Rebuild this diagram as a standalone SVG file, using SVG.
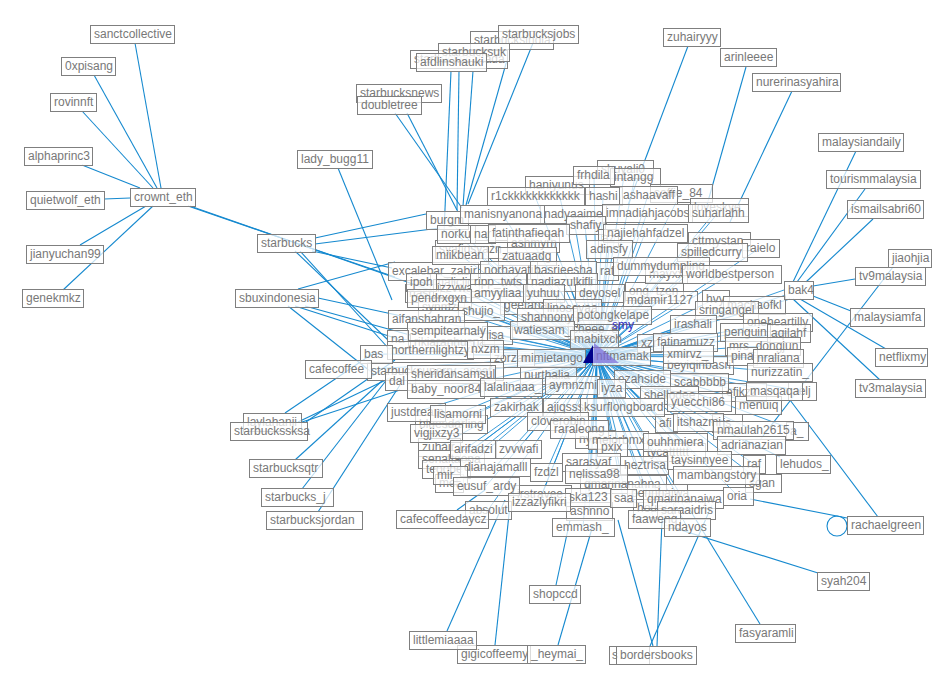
<svg xmlns="http://www.w3.org/2000/svg" width="950" height="688" viewBox="0 0 950 688">
<style>
.n rect{fill:#fff;fill-opacity:.72;stroke:#7f7f7f;stroke-width:1}
.n text{font-family:"Liberation Sans",Arial,sans-serif;font-size:12px;fill:#787878}
.e line{stroke:#1589cf;stroke-width:1.1}
.r{stroke:#1a8cd4;stroke-width:1;fill:none;stroke-opacity:.85}
</style>
<rect width="950" height="688" fill="#fff"/>
<g id="connectors">
<path class="r" d="M597 356L625 169M597 356L635 177M597 356L557 185M597 356L681 193M597 356L719 207M597 356L719 241M597 356L471 249M597 356L533 243M597 356L527 256M597 356L433 271M597 356L454 282M597 356L422 293M597 356L441 307M597 356L456 288M597 356L528 305M597 356L654 291M597 356L666 274M597 356L593 329M597 356L452 342M597 356L497 335M597 356L512 358M597 356L698 365M597 356L435 371M597 356L548 375M597 356L400 381M597 356L744 392M597 356L758 405M597 356L802 391M597 356L451 424M597 356L727 423M597 356L439 447M597 356L451 459M597 356L446 469M597 356L595 439M597 356L674 452M597 356L449 483M597 356L763 483M597 356L542 494M597 356L623 484M597 356L657 493M597 356L653 508M597 356L589 511M597 356L666 423M597 356L797 431"/>
<path class="r" d="M597 356L594 175M597 356L535 196M597 356L603 196M597 356L648 195M597 356L573 214M597 356L502 214M597 356L647 213M597 356L718 213M597 356L447 220M597 356L456 234M597 356L482 234M597 356L528 233M597 356L585 225M597 356L608 238M597 356L645 233M597 356L712 252M597 356L760 248M597 356L460 255M597 356L609 249M597 356L508 270M597 356L563 270M597 356L607 271M597 356L661 266M597 356L731 274M597 356L421 282M597 356L498 282M597 356L562 282M597 356L497 293M597 356L543 293M597 356L599 293M597 356L439 298M597 356L660 300M597 356L715 299M597 356L754 305M597 356L726 310M597 356L481 311M597 356L572 308M597 356L426 319M597 356L547 317M597 356L612 315M597 356L693 324M597 356L777 322M597 356L447 331M597 356L397 339M597 356L542 330M597 356L745 332M597 356L788 333M597 356L594 339M597 356L649 343M597 356L685 342M597 356L762 346M597 356L430 350M597 356L485 349M597 356L376 354M597 356L551 358M597 356L688 354M597 356L742 356M597 356L778 358M597 356L779 372M597 356L451 374M597 356L642 379M597 356L699 382M597 356L445 389M597 356L511 387M597 356L572 385M597 356L611 388M597 356L774 391M597 356L669 395M597 356L699 402M597 356L416 412M597 356L516 407M597 356L565 407M597 356L622 407M597 356L457 414M597 356L557 421M597 356L698 422M597 356L753 430M597 356L579 429M597 356L436 433M597 356L618 440M597 356L675 442M597 356L751 445M597 356L612 447M597 356L473 449M597 356L518 449M597 356L591 462M597 356L644 465M597 356L699 460M597 356L754 464M597 356L495 467M597 356L450 475M597 356L546 472M597 356L596 474M597 356L716 475M597 356L486 486M597 356L588 497M597 356L623 498M597 356L683 499M597 356L738 496M597 356L488 510M597 356L539 502M597 356L686 510M597 356L654 519M597 356L687 527M597 356L583 527M597 356L370 369M597 356L784 290M597 356L786 295M597 356L790 299"/>
<g class="e">
<line x1="135" y1="43" x2="161" y2="188"/>
<line x1="94" y1="75" x2="157" y2="188"/>
<line x1="82" y1="111" x2="153" y2="188"/>
<line x1="82" y1="165" x2="140" y2="188"/>
<line x1="104" y1="199" x2="130" y2="198"/>
<line x1="80" y1="245" x2="146" y2="206"/>
<line x1="63" y1="290" x2="153" y2="206"/>
<line x1="188" y1="206" x2="395" y2="277"/>
<line x1="190" y1="206" x2="430" y2="290"/>
<line x1="315" y1="238" x2="426" y2="214"/>
<line x1="315" y1="244" x2="440" y2="228"/>
<line x1="295" y1="251" x2="388" y2="340"/>
<line x1="300" y1="251" x2="390" y2="350"/>
<line x1="312" y1="251" x2="392" y2="268"/>
<line x1="298" y1="289" x2="395" y2="262"/>
<line x1="288" y1="306" x2="375" y2="375"/>
<line x1="295" y1="306" x2="395" y2="338"/>
<line x1="305" y1="306" x2="410" y2="335"/>
<line x1="318" y1="298" x2="420" y2="320"/>
<line x1="285" y1="413" x2="375" y2="352"/>
<line x1="298" y1="422" x2="390" y2="378"/>
<line x1="302" y1="422" x2="400" y2="390"/>
<line x1="306" y1="422" x2="395" y2="360"/>
<line x1="295" y1="460" x2="383" y2="380"/>
<line x1="302" y1="489" x2="388" y2="378"/>
<line x1="318" y1="512" x2="400" y2="385"/>
<line x1="338" y1="168" x2="392" y2="300"/>
<line x1="395" y1="113" x2="462" y2="208"/>
<line x1="407" y1="113" x2="458" y2="212"/>
<line x1="451" y1="71" x2="444" y2="232"/>
<line x1="459" y1="71" x2="457" y2="210"/>
<line x1="473" y1="71" x2="463" y2="206"/>
<line x1="507" y1="60" x2="466" y2="205"/>
<line x1="533" y1="43" x2="468" y2="204"/>
<line x1="688" y1="46" x2="628" y2="205"/>
<line x1="746" y1="67" x2="705" y2="212"/>
<line x1="792" y1="91" x2="730" y2="222"/>
<line x1="856" y1="151" x2="793" y2="282"/>
<line x1="865" y1="189" x2="797" y2="282"/>
<line x1="873" y1="219" x2="806" y2="282"/>
<line x1="813" y1="286" x2="855" y2="279"/>
<line x1="813" y1="296" x2="851" y2="311"/>
<line x1="800" y1="299" x2="886" y2="349"/>
<line x1="793" y1="299" x2="880" y2="380"/>
<line x1="893" y1="267" x2="760" y2="440"/>
<line x1="790" y1="400" x2="878" y2="517"/>
<line x1="750" y1="499" x2="847" y2="518"/>
<line x1="780" y1="457" x2="745" y2="440"/>
<line x1="818" y1="573" x2="665" y2="525"/>
<line x1="760" y1="624" x2="690" y2="510"/>
<line x1="653" y1="646" x2="618" y2="520"/>
<line x1="650" y1="646" x2="712" y2="505"/>
<line x1="657" y1="646" x2="662" y2="520"/>
<line x1="556" y1="585" x2="570" y2="520"/>
<line x1="447" y1="631" x2="505" y2="500"/>
<line x1="495" y1="645" x2="510" y2="505"/>
<line x1="558" y1="645" x2="593" y2="525"/>
<line x1="457" y1="510" x2="485" y2="490"/>
<circle cx="837" cy="526" r="10" fill="none" stroke="#1589cf" stroke-width="1.1"/>
</g>
</g>
<g id="nodes-back">
<g id="n-shuyali0" class="n"><rect x="597.5" y="160.5" width="56" height="18"/><text x="601" y="173">shuyali0</text></g>
<g id="n-intangg" class="n"><rect x="610.5" y="168.5" width="50" height="18"/><text x="614" y="181">intangg</text></g>
<g id="n-haniyunus" class="n"><rect x="525.5" y="176.5" width="64" height="18"/><text x="529" y="189">haniyunus</text></g>
<g id="n-saffie_84" class="n"><rect x="650.5" y="184.5" width="62" height="18"/><text x="654" y="197">saffie_84</text></g>
<g id="n-loveskye" class="n"><rect x="690.5" y="198.5" width="58" height="18"/><text x="694" y="211">loveskye</text></g>
<g id="n-cttmystan" class="n"><rect x="688.5" y="232.5" width="62" height="18"/><text x="692" y="245">cttmystan</text></g>
<g id="n-syafiqsyazn" class="n"><rect x="435.5" y="240.5" width="72" height="18"/><text x="439" y="253">syafiqsyazn</text></g>
<g id="n-ashmyrn" class="n"><rect x="507.5" y="234.5" width="52" height="18"/><text x="511" y="247">ashmyrn</text></g>
<g id="n-zatuaadg" class="n"><rect x="498.5" y="247.5" width="58" height="18"/><text x="502" y="260">zatuaadg</text></g>
<g id="n-excalebar_zabir" class="n"><rect x="388.5" y="262.5" width="90" height="18"/><text x="392" y="275">excalebar_zabir</text></g>
<g id="n-maliclic" class="n"><rect x="430.5" y="273.5" width="48" height="18"/><text x="434" y="286">maliclic</text></g>
<g id="n-nasr" class="n"><rect x="405.5" y="284.5" width="35" height="18"/><text x="409" y="297">nasr</text></g>
<g id="n-synmzi" class="n"><rect x="418.5" y="298.5" width="46" height="18"/><text x="422" y="311">synmzi</text></g>
<g id="n-izzvwa" class="n"><rect x="433.5" y="279.5" width="46" height="18"/><text x="437" y="292">izzvwa</text></g>
<g id="n-geetanai" class="n"><rect x="500.5" y="296.5" width="56" height="18"/><text x="504" y="309">geetanai</text></g>
<g id="n-ong_tzen" class="n"><rect x="625.5" y="282.5" width="58" height="18"/><text x="629" y="295">ong_tzen</text></g>
<g id="n-mayxx" class="n"><rect x="645.5" y="265.5" width="42" height="18"/><text x="649" y="278">mayxx</text></g>
<g id="n-cheee_e" class="n"><rect x="568.5" y="320.5" width="50" height="18"/><text x="572" y="333">cheee_e</text></g>
<g id="n-rikiaranhusna" class="n"><rect x="410.5" y="333.5" width="84" height="18"/><text x="414" y="346">rikiaranhusna</text></g>
<g id="n-lisa" class="n"><rect x="482.5" y="326.5" width="30" height="18"/><text x="486" y="339">lisa</text></g>
<g id="n-zorzan" class="n"><rect x="490.5" y="349.5" width="44" height="18"/><text x="494" y="362">zorzan</text></g>
<g id="n-beyiqinbasri" class="n"><rect x="663.5" y="356.5" width="70" height="18"/><text x="667" y="369">beyiqinbasri</text></g>
<g id="n-starbucksuperry_assaf" class="n"><rect x="367.5" y="362.5" width="136" height="18"/><text x="371" y="375">starbucksuperry_assaf</text></g>
<g id="n-nurthalia" class="n"><rect x="520.5" y="366.5" width="56" height="18"/><text x="524" y="379">nurthalia</text></g>
<g id="n-dal" class="n"><rect x="385.5" y="372.5" width="30" height="18"/><text x="389" y="385">dal</text></g>
<g id="n-efikzz" class="n"><rect x="722.5" y="383.5" width="44" height="18"/><text x="726" y="396">efikzz</text></g>
<g id="n-menuiq" class="n"><rect x="735.5" y="396.5" width="46" height="18"/><text x="739" y="409">menuiq</text></g>
<g id="n-aelj" class="n"><rect x="788.5" y="382.5" width="28" height="18"/><text x="792" y="395">aelj</text></g>
<g id="n-bluesdarling" class="n"><rect x="415.5" y="415.5" width="72" height="18"/><text x="419" y="428">bluesdarling</text></g>
<g id="n-iris" class="n"><rect x="712.5" y="414.5" width="30" height="18"/><text x="716" y="427">iris</text></g>
<g id="n-zuhair" class="n"><rect x="418.5" y="438.5" width="42" height="18"/><text x="422" y="451">zuhair</text></g>
<g id="n-senaltaopa" class="n"><rect x="418.5" y="450.5" width="66" height="18"/><text x="422" y="463">senaltaopa</text></g>
<g id="n-teoobe" class="n"><rect x="422.5" y="460.5" width="48" height="18"/><text x="426" y="473">teoobe</text></g>
<g id="n-nyara" class="n"><rect x="575.5" y="430.5" width="40" height="18"/><text x="579" y="443">nyara</text></g>
<g id="n-tycatttttt" class="n"><rect x="643.5" y="443.5" width="62" height="18"/><text x="647" y="456">tycatttttt</text></g>
<g id="n-mel" class="n"><rect x="435.5" y="474.5" width="28" height="18"/><text x="439" y="487">mel</text></g>
<g id="n-sgan" class="n"><rect x="745.5" y="474.5" width="36" height="18"/><text x="749" y="487">sgan</text></g>
<g id="n-irstravee" class="n"><rect x="513.5" y="485.5" width="58" height="18"/><text x="517" y="498">irstravee</text></g>
<g id="n-qmarinanahna" class="n"><rect x="580.5" y="475.5" width="86" height="18"/><text x="584" y="488">qmarinanahna</text></g>
<g id="n-pennhaiwa" class="n"><rect x="627.5" y="484.5" width="60" height="18"/><text x="631" y="497">pennhaiwa</text></g>
<g id="n-houry" class="n"><rect x="633.5" y="499.5" width="40" height="18"/><text x="637" y="512">houry</text></g>
<g id="n-ashnno" class="n"><rect x="566.5" y="502.5" width="46" height="18"/><text x="570" y="515">ashnno</text></g>
<g id="n-afi" class="n"><rect x="655.5" y="414.5" width="22" height="18"/><text x="659" y="427">afi</text></g>
<g id="n-a_" class="n"><rect x="786.5" y="422.5" width="22" height="18"/><text x="790" y="435">a_</text></g>
</g>
<g id="nodes-front">
<g id="n-frhdila" class="n"><rect x="573.5" y="166.5" width="41" height="18"/><text x="577" y="179">frhdila</text></g>
<g id="n-r1ckkkkkkkkkkkk" class="n"><rect x="487.5" y="187.5" width="97" height="18"/><text x="491" y="200">r1ckkkkkkkkkkkk</text></g>
<g id="n-hashi" class="n"><rect x="585.5" y="187.5" width="37" height="18"/><text x="589" y="200">hashi</text></g>
<g id="n-ashaavaff" class="n"><rect x="619.5" y="186.5" width="58" height="18"/><text x="623" y="199">ashaavaff</text></g>
<g id="n-burgm" class="n"><rect x="426.5" y="211.5" width="42" height="18"/><text x="430" y="224">burgm</text></g>
<g id="n-nadyaaime" class="n"><rect x="540.5" y="205.5" width="66" height="18"/><text x="544" y="218">nadyaaime</text></g>
<g id="n-manisnyanona" class="n"><rect x="460.5" y="205.5" width="84" height="18"/><text x="464" y="218">manisnyanona</text></g>
<g id="n-imnadiahjacobs" class="n"><rect x="602.5" y="204.5" width="90" height="18"/><text x="606" y="217">imnadiahjacobs</text></g>
<g id="n-suharlahh" class="n"><rect x="688.5" y="204.5" width="60" height="18"/><text x="692" y="217">suharlahh</text></g>
<g id="n-norku" class="n"><rect x="437.5" y="225.5" width="38" height="18"/><text x="441" y="238">norku</text></g>
<g id="n-nar" class="n"><rect x="470.5" y="225.5" width="25" height="18"/><text x="474" y="238">nar</text></g>
<g id="n-shafiy" class="n"><rect x="566.5" y="216.5" width="39" height="18"/><text x="570" y="229">shafiy</text></g>
<g id="n-fatinthafieqah" class="n"><rect x="488.5" y="224.5" width="81" height="18"/><text x="492" y="237">fatinthafieqah</text></g>
<g id="n-az" class="n"><rect x="598.5" y="229.5" width="20" height="18"/><text x="602" y="242">az</text></g>
<g id="n-najiehahfadzel" class="n"><rect x="603.5" y="224.5" width="84" height="18"/><text x="607" y="237">najiehahfadzel</text></g>
<g id="n-raielo" class="n"><rect x="742.5" y="239.5" width="37" height="18"/><text x="746" y="252">raielo</text></g>
<g id="n-spilledcurry" class="n"><rect x="677.5" y="243.5" width="70" height="18"/><text x="681" y="256">spilledcurry</text></g>
<g id="n-miikbean" class="n"><rect x="432.5" y="246.5" width="56" height="18"/><text x="436" y="259">miikbean</text></g>
<g id="n-adinsfy" class="n"><rect x="586.5" y="240.5" width="46" height="18"/><text x="590" y="253">adinsfy</text></g>
<g id="n-norhayati" class="n"><rect x="480.5" y="261.5" width="57" height="18"/><text x="484" y="274">norhayati</text></g>
<g id="n-basrieesha" class="n"><rect x="530.5" y="261.5" width="66" height="18"/><text x="534" y="274">basrieesha</text></g>
<g id="n-raf" class="n"><rect x="596.5" y="262.5" width="22" height="18"/><text x="600" y="275">raf</text></g>
<g id="n-dummydumpling" class="n"><rect x="613.5" y="257.5" width="96" height="18"/><text x="617" y="270">dummydumpling</text></g>
<g id="n-worldbestperson" class="n"><rect x="682.5" y="265.5" width="99" height="18"/><text x="686" y="278">worldbestperson</text></g>
<g id="n-ipoh" class="n"><rect x="406.5" y="273.5" width="30" height="18"/><text x="410" y="286">ipoh</text></g>
<g id="n-ripp_twts" class="n"><rect x="470.5" y="273.5" width="56" height="18"/><text x="474" y="286">ripp_twts</text></g>
<g id="n-nadiazulkifli" class="n"><rect x="527.5" y="273.5" width="70" height="18"/><text x="531" y="286">nadiazulkifli</text></g>
<g id="n-amyyliaa" class="n"><rect x="470.5" y="284.5" width="55" height="18"/><text x="474" y="297">amyyliaa</text></g>
<g id="n-yuhuu" class="n"><rect x="523.5" y="284.5" width="41" height="18"/><text x="527" y="297">yuhuu</text></g>
<g id="n-deyosel" class="n"><rect x="575.5" y="284.5" width="49" height="18"/><text x="579" y="297">deyosel</text></g>
<g id="n-pendrxgxn" class="n"><rect x="407.5" y="289.5" width="64" height="18"/><text x="411" y="302">pendrxgxn</text></g>
<g id="n-mdamir1127" class="n"><rect x="623.5" y="291.5" width="74" height="18"/><text x="627" y="304">mdamir1127</text></g>
<g id="n-hvy" class="n"><rect x="702.5" y="290.5" width="27" height="18"/><text x="706" y="303">hvy</text></g>
<g id="n-machaofkl" class="n"><rect x="723.5" y="296.5" width="62" height="18"/><text x="727" y="309">machaofkl</text></g>
<g id="n-sringangel" class="n"><rect x="695.5" y="301.5" width="63" height="18"/><text x="699" y="314">sringangel</text></g>
<g id="n-shujio_" class="n"><rect x="458.5" y="302.5" width="46" height="18"/><text x="462" y="315">shujio_</text></g>
<g id="n-linoseyaa" class="n"><rect x="543.5" y="299.5" width="58" height="18"/><text x="547" y="312">linoseyaa</text></g>
<g id="n-aifanshahran" class="n"><rect x="388.5" y="310.5" width="76" height="18"/><text x="392" y="323">aifanshahran</text></g>
<g id="n-shannony" class="n"><rect x="517.5" y="308.5" width="60" height="18"/><text x="521" y="321">shannony</text></g>
<g id="n-potongkelape" class="n"><rect x="573.5" y="306.5" width="78" height="18"/><text x="577" y="319">potongkelape</text></g>
<g id="n-irashali" class="n"><rect x="670.5" y="315.5" width="46" height="18"/><text x="674" y="328">irashali</text></g>
<g id="n-oneheartilly" class="n"><rect x="743.5" y="313.5" width="69" height="18"/><text x="747" y="326">oneheartilly</text></g>
<g id="n-sempitearnaly" class="n"><rect x="407.5" y="322.5" width="80" height="18"/><text x="411" y="335">sempitearnaly</text></g>
<g id="n-na" class="n"><rect x="387.5" y="330.5" width="21" height="18"/><text x="391" y="343">na</text></g>
<g id="n-watiesam_" class="n"><rect x="510.5" y="321.5" width="64" height="18"/><text x="514" y="334">watiesam_</text></g>
<g id="n-penguin" class="n"><rect x="720.5" y="323.5" width="50" height="18"/><text x="724" y="336">penguin</text></g>
<g id="n-aqilahf" class="n"><rect x="767.5" y="324.5" width="43" height="18"/><text x="771" y="337">aqilahf</text></g>
<g id="n-mabitxch" class="n"><rect x="570.5" y="330.5" width="48" height="18"/><text x="574" y="343">mabitxch</text></g>
<g id="n-xzr" class="n"><rect x="637.5" y="334.5" width="24" height="18"/><text x="641" y="347">xzr</text></g>
<g id="n-fatinamuzz" class="n"><rect x="653.5" y="333.5" width="64" height="18"/><text x="657" y="346">fatinamuzz</text></g>
<g id="n-mrs_dongjun" class="n"><rect x="725.5" y="337.5" width="75" height="18"/><text x="729" y="350">mrs_dongjun</text></g>
<g id="n-northernlightzy" class="n"><rect x="387.5" y="341.5" width="86" height="18"/><text x="391" y="354">northernlightzy</text></g>
<g id="n-nxzm" class="n"><rect x="467.5" y="340.5" width="36" height="18"/><text x="471" y="353">nxzm</text></g>
<g id="n-bas" class="n"><rect x="360.5" y="345.5" width="32" height="18"/><text x="364" y="358">bas</text></g>
<g id="n-mimietango" class="n"><rect x="517.5" y="349.5" width="68" height="18"/><text x="521" y="362">mimietango</text></g>
<g id="n-xmirvz_" class="n"><rect x="663.5" y="345.5" width="50" height="18"/><text x="667" y="358">xmirvz_</text></g>
<g id="n-pina" class="n"><rect x="727.5" y="347.5" width="30" height="18"/><text x="731" y="360">pina</text></g>
<g id="n-nraliana" class="n"><rect x="753.5" y="349.5" width="50" height="18"/><text x="757" y="362">nraliana</text></g>
<g id="n-nurizzatin_" class="n"><rect x="747.5" y="363.5" width="65" height="18"/><text x="751" y="376">nurizzatin_</text></g>
<g id="n-sheridansamsul" class="n"><rect x="407.5" y="365.5" width="88" height="18"/><text x="411" y="378">sheridansamsul</text></g>
<g id="n-ezahside" class="n"><rect x="614.5" y="370.5" width="56" height="18"/><text x="618" y="383">ezahside</text></g>
<g id="n-scabbbbb" class="n"><rect x="670.5" y="373.5" width="58" height="18"/><text x="674" y="386">scabbbbb</text></g>
<g id="n-baby_noor84" class="n"><rect x="407.5" y="380.5" width="77" height="18"/><text x="411" y="393">baby_noor84</text></g>
<g id="n-lalalinaaa_" class="n"><rect x="480.5" y="378.5" width="62" height="18"/><text x="484" y="391">lalalinaaa_</text></g>
<g id="n-aymnzmi" class="n"><rect x="545.5" y="376.5" width="54" height="18"/><text x="549" y="389">aymnzmi</text></g>
<g id="n-iyza" class="n"><rect x="597.5" y="379.5" width="28" height="18"/><text x="601" y="392">iyza</text></g>
<g id="n-masqaqa" class="n"><rect x="746.5" y="382.5" width="56" height="18"/><text x="750" y="395">masqaqa</text></g>
<g id="n-shellodee" class="n"><rect x="640.5" y="386.5" width="58" height="18"/><text x="644" y="399">shellodee</text></g>
<g id="n-yuecchi86" class="n"><rect x="667.5" y="393.5" width="64" height="18"/><text x="671" y="406">yuecchi86</text></g>
<g id="n-justdream" class="n"><rect x="387.5" y="403.5" width="58" height="18"/><text x="391" y="416">justdream</text></g>
<g id="n-zakirhak" class="n"><rect x="490.5" y="398.5" width="52" height="18"/><text x="494" y="411">zakirhak</text></g>
<g id="n-ajiqsss" class="n"><rect x="543.5" y="398.5" width="44" height="18"/><text x="547" y="411">ajiqsss</text></g>
<g id="n-ksurflongboard" class="n"><rect x="580.5" y="398.5" width="84" height="18"/><text x="584" y="411">ksurflongboard</text></g>
<g id="n-lisamorni" class="n"><rect x="430.5" y="405.5" width="55" height="18"/><text x="434" y="418">lisamorni</text></g>
<g id="n-cloverobin" class="n"><rect x="527.5" y="412.5" width="61" height="18"/><text x="531" y="425">cloverobin</text></g>
<g id="n-itshazmi" class="n"><rect x="673.5" y="413.5" width="50" height="18"/><text x="677" y="426">itshazmi</text></g>
<g id="n-nmaulah2615" class="n"><rect x="713.5" y="421.5" width="80" height="18"/><text x="717" y="434">nmaulah2615</text></g>
<g id="n-raraleong" class="n"><rect x="550.5" y="420.5" width="58" height="18"/><text x="554" y="433">raraleong</text></g>
<g id="n-vigjixzy3" class="n"><rect x="410.5" y="424.5" width="52" height="18"/><text x="414" y="437">vigjixzy3</text></g>
<g id="n-mejorbmx" class="n"><rect x="588.5" y="431.5" width="60" height="18"/><text x="592" y="444">mejorbmx</text></g>
<g id="n-ouhhmiera" class="n"><rect x="643.5" y="433.5" width="64" height="18"/><text x="647" y="446">ouhhmiera</text></g>
<g id="n-adrianazian" class="n"><rect x="717.5" y="436.5" width="68" height="18"/><text x="721" y="449">adrianazian</text></g>
<g id="n-pxix" class="n"><rect x="597.5" y="438.5" width="30" height="18"/><text x="601" y="451">pxix</text></g>
<g id="n-arifadzi" class="n"><rect x="450.5" y="440.5" width="46" height="18"/><text x="454" y="453">arifadzi</text></g>
<g id="n-zvvwafi" class="n"><rect x="495.5" y="440.5" width="46" height="18"/><text x="499" y="453">zvvwafi</text></g>
<g id="n-sarasyaf_" class="n"><rect x="562.5" y="453.5" width="58" height="18"/><text x="566" y="466">sarasyaf_</text></g>
<g id="n-heztrisa" class="n"><rect x="620.5" y="456.5" width="48" height="18"/><text x="624" y="469">heztrisa</text></g>
<g id="n-taysinnyee" class="n"><rect x="667.5" y="451.5" width="64" height="18"/><text x="671" y="464">taysinnyee</text></g>
<g id="n-raf-2" class="n"><rect x="743.5" y="455.5" width="22" height="18"/><text x="747" y="468">raf</text></g>
<g id="n-dianajamalll" class="n"><rect x="460.5" y="458.5" width="70" height="18"/><text x="464" y="471">dianajamalll</text></g>
<g id="n-mir_" class="n"><rect x="433.5" y="466.5" width="34" height="18"/><text x="437" y="479">mir_</text></g>
<g id="n-fzdzl" class="n"><rect x="530.5" y="463.5" width="32" height="18"/><text x="534" y="476">fzdzl</text></g>
<g id="n-nelissa98" class="n"><rect x="565.5" y="465.5" width="62" height="18"/><text x="569" y="478">nelissa98</text></g>
<g id="n-mambangstory" class="n"><rect x="673.5" y="466.5" width="86" height="18"/><text x="677" y="479">mambangstory</text></g>
<g id="n-eusuf_ardy" class="n"><rect x="453.5" y="477.5" width="66" height="18"/><text x="457" y="490">eusuf_ardy</text></g>
<g id="n-ska123" class="n"><rect x="565.5" y="488.5" width="46" height="18"/><text x="569" y="501">ska123</text></g>
<g id="n-saa" class="n"><rect x="610.5" y="489.5" width="26" height="18"/><text x="614" y="502">saa</text></g>
<g id="n-qmarinanajwa" class="n"><rect x="643.5" y="490.5" width="80" height="18"/><text x="647" y="503">qmarinanajwa</text></g>
<g id="n-oria" class="n"><rect x="723.5" y="487.5" width="30" height="18"/><text x="727" y="500">oria</text></g>
<g id="n-absolut" class="n"><rect x="465.5" y="501.5" width="46" height="18"/><text x="469" y="514">absolut</text></g>
<g id="n-izzazlyfikri" class="n"><rect x="508.5" y="493.5" width="62" height="18"/><text x="512" y="506">izzazlyfikri</text></g>
<g id="n-saraaidris" class="n"><rect x="657.5" y="501.5" width="58" height="18"/><text x="661" y="514">saraaidris</text></g>
<g id="n-faaweng" class="n"><rect x="628.5" y="510.5" width="52" height="18"/><text x="632" y="523">faaweng</text></g>
<g id="n-ndayos" class="n"><rect x="664.5" y="518.5" width="46" height="18"/><text x="668" y="531">ndayos</text></g>
<g id="n-emmash_" class="n"><rect x="552.5" y="518.5" width="62" height="18"/><text x="556" y="531">emmash_</text></g>
<g id="n-nftmamak" class="n"><rect x="592.5" y="347.5" width="58" height="18"/><text x="596" y="360">nftmamak</text></g>
</g>
<g id="nodes-outer">
<g id="n-sanctcollective" class="n"><rect x="90.5" y="25.5" width="84" height="18"/><text x="94" y="38">sanctcollective</text></g>
<g id="n-0xpisang" class="n"><rect x="61.5" y="57.5" width="54" height="18"/><text x="65" y="70">0xpisang</text></g>
<g id="n-rovinnft" class="n"><rect x="50.5" y="93.5" width="46" height="18"/><text x="54" y="106">rovinnft</text></g>
<g id="n-alphaprinc3" class="n"><rect x="24.5" y="147.5" width="68" height="18"/><text x="28" y="160">alphaprinc3</text></g>
<g id="n-quietwolf_eth" class="n"><rect x="26.5" y="191.5" width="78" height="18"/><text x="30" y="204">quietwolf_eth</text></g>
<g id="n-crownt_eth" class="n"><rect x="130.5" y="188.5" width="65" height="18"/><text x="134" y="201">crownt_eth</text></g>
<g id="n-jianyuchan99" class="n"><rect x="26.5" y="245.5" width="77" height="18"/><text x="30" y="258">jianyuchan99</text></g>
<g id="n-genekmkz" class="n"><rect x="22.5" y="289.5" width="61" height="18"/><text x="26" y="302">genekmkz</text></g>
<g id="n-lady_bugg11" class="n"><rect x="297.5" y="150.5" width="75" height="18"/><text x="301" y="163">lady_bugg11</text></g>
<g id="n-starbucksnews" class="n"><rect x="356.5" y="84.5" width="85" height="18"/><text x="360" y="97">starbucksnews</text></g>
<g id="n-doubletree" class="n"><rect x="357.5" y="96.5" width="64" height="18"/><text x="361" y="109">doubletree</text></g>
<g id="n-starbucksindia" class="n"><rect x="470.5" y="31.5" width="83" height="18"/><text x="474" y="44">starbucksindia</text></g>
<g id="n-starbucksjobs" class="n"><rect x="498.5" y="25.5" width="80" height="18"/><text x="502" y="38">starbucksjobs</text></g>
<g id="n-starbuckscanada" class="n"><rect x="410.5" y="50.5" width="97" height="18"/><text x="414" y="63">starbuckscanada</text></g>
<g id="n-starbucksuk" class="n"><rect x="438.5" y="43.5" width="71" height="18"/><text x="442" y="56">starbucksuk</text></g>
<g id="n-afdlinshauki" class="n"><rect x="416.5" y="53.5" width="70" height="18"/><text x="420" y="66">afdlinshauki</text></g>
<g id="n-zuhairyyy" class="n"><rect x="663.5" y="28.5" width="57" height="18"/><text x="667" y="41">zuhairyyy</text></g>
<g id="n-arinleeee" class="n"><rect x="720.5" y="48.5" width="56" height="18"/><text x="724" y="61">arinleeee</text></g>
<g id="n-nurerinasyahira" class="n"><rect x="752.5" y="73.5" width="88" height="18"/><text x="756" y="86">nurerinasyahira</text></g>
<g id="n-malaysiandaily" class="n"><rect x="818.5" y="133.5" width="85" height="18"/><text x="822" y="146">malaysiandaily</text></g>
<g id="n-tourismmalaysia" class="n"><rect x="826.5" y="170.5" width="94" height="18"/><text x="830" y="183">tourismmalaysia</text></g>
<g id="n-ismailsabri60" class="n"><rect x="847.5" y="200.5" width="76" height="18"/><text x="851" y="213">ismailsabri60</text></g>
<g id="n-jiaohjia" class="n"><rect x="888.5" y="249.5" width="43" height="18"/><text x="892" y="262">jiaohjia</text></g>
<g id="n-tv9malaysia" class="n"><rect x="855.5" y="267.5" width="70" height="18"/><text x="859" y="280">tv9malaysia</text></g>
<g id="n-bak4" class="n"><rect x="784.5" y="281.5" width="29" height="18"/><text x="788" y="294">bak4</text></g>
<g id="n-malaysiamfa" class="n"><rect x="850.5" y="308.5" width="74" height="18"/><text x="854" y="321">malaysiamfa</text></g>
<g id="n-netflixmy" class="n"><rect x="875.5" y="348.5" width="52" height="18"/><text x="879" y="361">netflixmy</text></g>
<g id="n-tv3malaysia" class="n"><rect x="855.5" y="379.5" width="70" height="18"/><text x="859" y="392">tv3malaysia</text></g>
<g id="n-lehudos_" class="n"><rect x="776.5" y="455.5" width="54" height="18"/><text x="780" y="468">lehudos_</text></g>
<g id="n-rachaelgreen" class="n"><rect x="847.5" y="516.5" width="76" height="18"/><text x="851" y="529">rachaelgreen</text></g>
<g id="n-syah204" class="n"><rect x="817.5" y="572.5" width="52" height="18"/><text x="821" y="585">syah204</text></g>
<g id="n-fasyaramli" class="n"><rect x="735.5" y="624.5" width="60" height="18"/><text x="739" y="637">fasyaramli</text></g>
<g id="n-s" class="n"><rect x="609.5" y="646.5" width="40" height="18"/><text x="612" y="659">s</text></g>
<g id="n-bordersbooks" class="n"><rect x="616.5" y="646.5" width="80" height="18"/><text x="620" y="659">bordersbooks</text></g>
<g id="n-gigicoffeemy" class="n"><rect x="457.5" y="645.5" width="73" height="18"/><text x="461" y="658">gigicoffeemy</text></g>
<g id="n-_heymai_" class="n"><rect x="527.5" y="645.5" width="58" height="18"/><text x="531" y="658">_heymai_</text></g>
<g id="n-littlemiaaaa" class="n"><rect x="409.5" y="631.5" width="67" height="18"/><text x="413" y="644">littlemiaaaa</text></g>
<g id="n-shopccd" class="n"><rect x="529.5" y="585.5" width="51" height="18"/><text x="533" y="598">shopccd</text></g>
<g id="n-cafecoffeedaycz" class="n"><rect x="396.5" y="510.5" width="92" height="18"/><text x="400" y="523">cafecoffeedaycz</text></g>
<g id="n-starbucksjordan" class="n"><rect x="266.5" y="511.5" width="96" height="18"/><text x="270" y="524">starbucksjordan</text></g>
<g id="n-starbucks_j" class="n"><rect x="261.5" y="488.5" width="72" height="18"/><text x="265" y="501">starbucks_j</text></g>
<g id="n-starbucksqtr" class="n"><rect x="249.5" y="459.5" width="73" height="18"/><text x="253" y="472">starbucksqtr</text></g>
<g id="n-laylahanii" class="n"><rect x="243.5" y="413.5" width="58" height="18"/><text x="247" y="426">laylahanii</text></g>
<g id="n-starbuckssksa" class="n"><rect x="230.5" y="422.5" width="77" height="18"/><text x="234" y="435">starbuckssksa</text></g>
<g id="n-cafecoffee" class="n"><rect x="305.5" y="360.5" width="66" height="18"/><text x="309" y="373">cafecoffee</text></g>
<g id="n-sbuxindonesia" class="n"><rect x="235.5" y="289.5" width="83" height="18"/><text x="239" y="302">sbuxindonesia</text></g>
<g id="n-starbucks" class="n"><rect x="257.5" y="234.5" width="58" height="18"/><text x="261" y="247">starbucks</text></g>
</g>
<g id="hub-mark">
<polygon points="594,343 619,363 593,363" fill="#7b68d8" fill-opacity="0.7"/>
<polygon points="583,363 593,345 593,363" fill="#00008b"/>
<text x="612" y="329" font-family="Liberation Sans, Arial, sans-serif" font-size="12" fill="#3030c0">smy</text>
</g>
</svg>
